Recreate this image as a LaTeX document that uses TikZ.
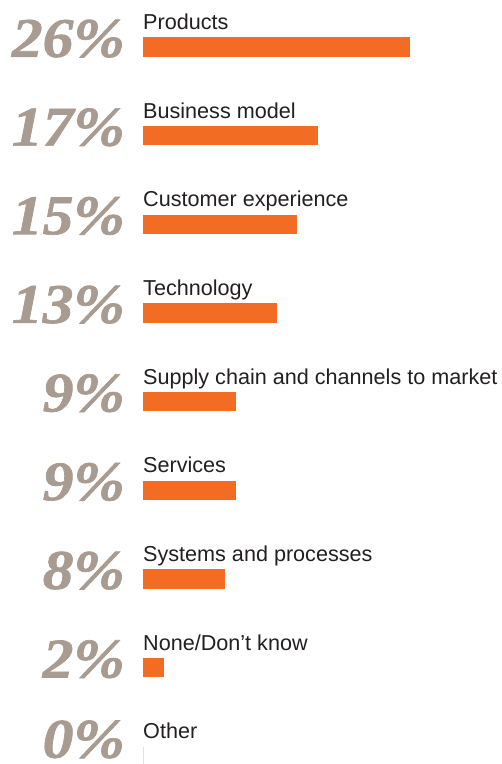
\documentclass[tikz,border=0pt]{standalone}
\usepackage{fontspec}
\setmainfont{Liberation Sans}
\newfontfamily\pctfont[FakeStretch=1.1,FakeBold=1.2]{Liberation Serif}
\usetikzlibrary{positioning}
\definecolor{barorange}{RGB}{242,108,35}
\definecolor{pctgrey}{RGB}{168,155,145}
\definecolor{txtdark}{RGB}{35,31,32}
\tikzstyle{bar}=[
	rectangle,
	fill=barorange,
	inner sep=0,
	anchor=north west,
	minimum height=19.5pt]
\tikzstyle{nilbar}=[
	rectangle,
	fill=barorange!25,
	inner sep=0,
	anchor=north west,
	minimum width=0.8pt,
	minimum height=18pt]
\tikzstyle{pct}=[
	inner sep=0,
	text depth=0pt,
	text=pctgrey,
	font=\pctfont\bfseries\itshape\fontsize{56}{60}\selectfont]
\tikzstyle{lbl}=[
	inner sep=0,
	text=txtdark,
	font=\fontsize{21.6}{24}\selectfont]

\begin{document}
\begin{tikzpicture}[x=1pt,y=-1pt]
	\useasboundingbox (0,0) rectangle (502,764);
	% bars, one per answer
	\node[bar,minimum width=26*10.27pt]	(prodbar)	at (143,37)	{};
	\node[bar,minimum width=17*10.27pt]	(bizbar)	at (143,125.7)	{};
	\node[bar,minimum width=15*10.27pt]	(custbar)	at (143,214.3)	{};
	\node[bar,minimum width=13*10.27pt]	(techbar)	at (143,303)	{};
	\node[bar,minimum width=9*10.27pt]	(suppbar)	at (143,391.6)	{};
	\node[bar,minimum width=9*10.27pt]	(servbar)	at (143,480.3)	{};
	\node[bar,minimum width=8*10.27pt]	(sysbar)	at (143,569)	{};
	\node[bar,minimum width=2*10.27pt]	(nonebar)	at (143,657.6)	{};
	\node[nilbar]	(othbar)	at (143,746.3)	{};
	% labels over the bars
	\node[lbl,above right=7.5pt and 0pt of prodbar.north west,anchor=base west]	(prodtxt)	{Products};
	\node[lbl,above right=7.5pt and 0pt of bizbar.north west,anchor=base west]	(biztxt)	{Business model};
	\node[lbl,above right=7.5pt and 0pt of custbar.north west,anchor=base west]	(custtxt)	{Customer experience};
	\node[lbl,above right=7.5pt and 0pt of techbar.north west,anchor=base west]	(techtxt)	{Technology};
	\node[lbl,above right=7.5pt and 0pt of suppbar.north west,anchor=base west]	(supptxt)	{Supply chain and channels to market};
	\node[lbl,above right=7.5pt and 0pt of servbar.north west,anchor=base west]	(servtxt)	{Services};
	\node[lbl,above right=7.5pt and 0pt of sysbar.north west,anchor=base west]	(systxt)	{Systems and processes};
	\node[lbl,above right=7.5pt and 0pt of nonebar.north west,anchor=base west]	(nonetxt)	{None/Don’t know};
	\node[lbl,above right=7.5pt and 0pt of othbar.north west,anchor=base west]	(othtxt)	{Other};
	% percentages to the left
	\node[pct,left=18pt of prodbar.south west,anchor=base east]	(prodpct)	{26\%};
	\node[pct,left=18pt of bizbar.south west,anchor=base east]	(bizpct)	{17\%};
	\node[pct,left=18pt of custbar.south west,anchor=base east]	(custpct)	{15\%};
	\node[pct,left=18pt of techbar.south west,anchor=base east]	(techpct)	{13\%};
	\node[pct,left=18pt of suppbar.south west,anchor=base east]	(supppct)	{9\%};
	\node[pct,left=18pt of servbar.south west,anchor=base east]	(servpct)	{9\%};
	\node[pct,left=18pt of sysbar.south west,anchor=base east]	(syspct)	{8\%};
	\node[pct,left=18pt of nonebar.south west,anchor=base east]	(nonepct)	{2\%};
	\node[pct,left=18pt of othbar.south west,anchor=base east,yshift=7pt]	(othpct)	{0\%};
\end{tikzpicture}
\end{document}
